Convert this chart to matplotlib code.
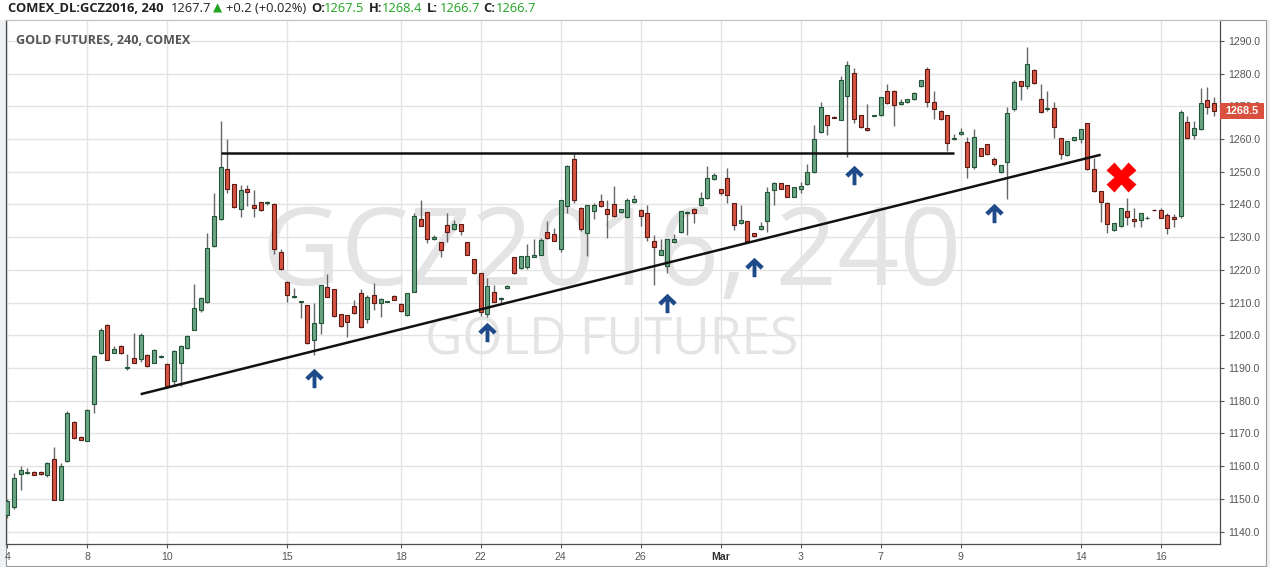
import numpy as np
import matplotlib
matplotlib.use("Agg")
import matplotlib.pyplot as plt
from matplotlib.path import Path
from matplotlib.patches import Rectangle
import matplotlib.transforms as mtransforms

W, H = 1270, 567

# 240-min bars (bar index = position on the time scale)
opens = [1145.1, 1147.4, 1157.7, 1158.0, 1158.3, 1158.3, 1157.3, 1162.2, 1149.7, 1161.6,
         1173.6, 1169.0, 1167.8, 1179.1, 1194.7, 1203.3, 1194.7, 1196.8, 1190.0, 1193.2,
         1192.9, 1194.1, 1191.6, 1193.5, 1191.3, 1186.1, 1191.6, 1196.0, 1201.7, 1207.6,
         1210.3, 1227.3, 1235.5, 1250.8, 1246.2, 1238.5, 1244.6, 1239.8, 1240.7, 1240.3,
         1240.1, 1225.5, 1216.4, 1211.6, 1210.2, 1209.2, 1198.5, 1203.7, 1214.7, 1214.1,
         1206.4, 1206.1, 1209.0, 1212.8, 1205.1, 1212.2, 1209.8, 1210.3, 1212.0, 1209.6,
         1206.1, 1213.3, 1235.6, 1237.6, 1229.4, 1228.4, 1233.6, 1232.4, 1233.9, 1228.4,
         1223.2, 1218.9, 1206.4, 1213.1, 1211.2, 1214.4, 1223.8, 1220.5, 1220.8, 1224.0,
         1224.7, 1231.5, 1230.9, 1226.3, 1239.6, 1253.8, 1239.0, 1231.2, 1237.9, 1241.2,
         1238.5, 1240.0, 1237.7, 1236.2, 1240.7, 1238.4, 1237.3, 1228.7, 1224.7, 1221.1,
         1228.4, 1231.5, 1237.3, 1238.5, 1239.7, 1241.9, 1247.7, 1244.6, 1248.0, 1240.4,
         1234.2, 1234.8, 1231.2, 1232.4, 1234.8, 1244.3, 1246.5, 1245.9, 1242.4, 1244.6,
         1246.2, 1249.8, 1262.1, 1267.3, 1266.7, 1265.9, 1273.1, 1280.1, 1267.3, 1263.3,
         1267.2, 1267.3, 1274.6, 1274.6, 1270.6, 1271.3, 1272.1, 1276.1, 1281.3, 1271.3,
         1268.6, 1267.3, 1260.0, 1261.4, 1259.0, 1251.6, 1257.2, 1258.4, 1253.9, 1249.8,
         1252.9, 1269.2, 1277.7, 1276.1, 1281.0, 1272.2, 1269.2, 1269.4, 1260.2, 1255.0,
         1259.8, 1260.1, 1264.8, 1250.9, 1244.0, 1240.4, 1232.1, 1233.4, 1238.0, 1235.5,
         1235.2, 1235.8, 1238.4, 1238.3, 1236.9, 1236.2, 1236.5, 1265.1, 1261.2, 1263.0,
         1271.9, 1271.0]
highs = [1150.0, 1158.0, 1159.9, 1159.5, 1158.6, 1158.5, 1161.2, 1165.8, 1160.9, 1177.0,
         1173.8, 1169.2, 1177.5, 1194.0, 1202.2, 1203.5, 1196.6, 1197.0, 1194.4, 1200.6,
         1200.7, 1194.4, 1195.8, 1194.0, 1191.5, 1195.6, 1197.0, 1200.2, 1215.6, 1211.8,
         1231.2, 1243.4, 1265.5, 1260.0, 1246.4, 1246.0, 1246.0, 1244.4, 1240.9, 1241.2,
         1240.3, 1226.3, 1216.6, 1214.5, 1210.6, 1209.4, 1209.8, 1215.5, 1218.6, 1214.3,
         1206.6, 1206.3, 1210.8, 1214.1, 1212.3, 1215.9, 1211.4, 1210.6, 1212.2, 1209.8,
         1213.0, 1237.3, 1241.4, 1237.8, 1230.7, 1228.6, 1237.3, 1235.3, 1234.1, 1228.6,
         1223.4, 1219.1, 1217.4, 1215.4, 1211.8, 1215.3, 1224.0, 1224.3, 1227.9, 1229.3,
         1229.9, 1234.9, 1232.7, 1241.5, 1252.1, 1255.8, 1239.2, 1239.9, 1240.6, 1243.2,
         1241.4, 1245.6, 1238.7, 1241.9, 1242.9, 1238.6, 1239.7, 1230.8, 1229.3, 1229.5,
         1231.0, 1238.1, 1237.9, 1239.0, 1243.7, 1251.8, 1249.5, 1244.8, 1251.1, 1240.6,
         1239.7, 1235.0, 1231.4, 1234.5, 1245.2, 1246.9, 1246.7, 1246.1, 1245.4, 1247.0,
         1252.4, 1264.3, 1271.3, 1267.5, 1266.9, 1279.3, 1283.8, 1281.7, 1267.5, 1270.7,
         1267.5, 1273.0, 1276.9, 1275.0, 1272.2, 1272.4, 1274.5, 1278.2, 1281.9, 1274.8,
         1268.8, 1267.5, 1261.6, 1263.3, 1260.7, 1263.0, 1257.4, 1258.6, 1254.6, 1252.2,
         1269.7, 1278.1, 1277.9, 1288.1, 1281.5, 1276.8, 1274.8, 1271.2, 1260.4, 1259.5,
         1260.7, 1263.2, 1265.0, 1254.1, 1244.2, 1240.9, 1234.4, 1239.0, 1242.0, 1239.0,
         1237.5, 1236.6, 1238.6, 1238.8, 1237.4, 1237.0, 1269.0, 1266.9, 1265.4, 1275.6,
         1276.0, 1272.8]
lows = [1144.0, 1146.8, 1152.6, 1157.6, 1157.2, 1157.4, 1156.6, 1149.6, 1149.5, 1161.4,
        1168.3, 1167.9, 1167.6, 1176.2, 1194.2, 1192.4, 1194.5, 1194.4, 1189.3, 1191.4,
        1191.8, 1190.4, 1191.4, 1193.0, 1184.0, 1184.5, 1184.6, 1195.8, 1201.5, 1207.0,
        1209.8, 1227.0, 1235.3, 1243.6, 1239.0, 1236.1, 1239.5, 1236.1, 1238.0, 1239.9,
        1225.0, 1220.0, 1210.1, 1211.4, 1205.2, 1197.4, 1194.0, 1200.3, 1211.6, 1205.7,
        1202.6, 1199.6, 1206.5, 1202.2, 1203.7, 1207.7, 1205.7, 1210.2, 1210.7, 1207.1,
        1205.9, 1213.1, 1233.3, 1228.3, 1229.2, 1224.0, 1228.6, 1232.2, 1230.6, 1224.5,
        1218.7, 1206.0, 1205.7, 1210.1, 1209.8, 1214.2, 1218.8, 1220.3, 1220.2, 1223.8,
        1224.5, 1229.4, 1228.7, 1225.6, 1237.3, 1240.6, 1232.0, 1224.3, 1235.7, 1239.2,
        1229.6, 1236.3, 1237.5, 1236.0, 1240.5, 1233.5, 1228.9, 1215.3, 1224.5, 1219.2,
        1228.2, 1231.3, 1230.6, 1234.2, 1239.5, 1241.7, 1247.5, 1242.9, 1240.4, 1232.2,
        1234.0, 1228.6, 1230.2, 1232.2, 1231.7, 1239.7, 1244.6, 1242.2, 1242.2, 1243.6,
        1246.0, 1249.6, 1261.9, 1261.3, 1266.3, 1265.7, 1254.6, 1265.0, 1263.4, 1262.5,
        1267.1, 1267.1, 1270.7, 1264.1, 1270.4, 1271.1, 1271.9, 1275.9, 1269.9, 1266.2,
        1265.8, 1256.5, 1259.8, 1261.2, 1248.0, 1250.8, 1254.7, 1255.1, 1251.9, 1249.5,
        1241.6, 1268.7, 1272.0, 1275.2, 1276.9, 1268.0, 1268.7, 1260.4, 1253.8, 1254.8,
        1259.3, 1258.9, 1250.5, 1243.8, 1234.6, 1231.2, 1232.0, 1233.1, 1233.6, 1233.2,
        1233.2, 1235.6, 1238.0, 1235.8, 1231.0, 1233.2, 1236.0, 1260.0, 1259.9, 1262.8,
        1267.6, 1266.9]
closes = [1149.2, 1156.4, 1158.9, 1158.2, 1157.4, 1157.6, 1161.0, 1149.7, 1159.9, 1176.3,
          1168.6, 1168.1, 1177.2, 1193.8, 1201.7, 1192.6, 1195.9, 1194.7, 1190.2, 1191.6,
          1200.0, 1190.6, 1195.6, 1193.7, 1184.5, 1195.3, 1196.6, 1199.9, 1208.5, 1211.5,
          1226.6, 1236.4, 1251.4, 1244.6, 1239.1, 1244.3, 1243.7, 1239.0, 1238.2, 1240.7,
          1226.3, 1220.2, 1212.2, 1212.0, 1210.4, 1197.6, 1203.7, 1215.3, 1211.8, 1205.9,
          1202.8, 1204.0, 1206.7, 1202.4, 1211.6, 1209.8, 1211.2, 1210.4, 1210.9, 1207.3,
          1212.8, 1236.4, 1233.5, 1229.4, 1230.1, 1226.0, 1231.5, 1234.0, 1231.8, 1224.7,
          1218.9, 1207.2, 1215.1, 1210.3, 1211.4, 1215.1, 1219.0, 1224.1, 1224.2, 1224.6,
          1229.1, 1229.6, 1228.9, 1241.3, 1251.7, 1241.4, 1232.6, 1239.7, 1239.7, 1239.4,
          1237.1, 1236.5, 1238.5, 1241.3, 1241.8, 1236.4, 1230.1, 1226.9, 1226.1, 1229.3,
          1229.4, 1237.9, 1237.7, 1237.3, 1241.9, 1248.0, 1248.9, 1243.4, 1242.8, 1233.6,
          1235.2, 1228.8, 1230.4, 1233.5, 1243.9, 1246.7, 1244.8, 1242.4, 1245.2, 1245.7,
          1249.8, 1259.9, 1269.7, 1264.4, 1266.5, 1278.0, 1282.6, 1266.0, 1263.6, 1262.7,
          1267.3, 1272.8, 1270.9, 1270.3, 1271.3, 1272.2, 1274.0, 1278.0, 1271.3, 1269.1,
          1266.0, 1258.9, 1260.2, 1262.1, 1251.6, 1260.5, 1254.9, 1255.3, 1252.3, 1252.0,
          1267.9, 1277.4, 1276.1, 1283.0, 1277.1, 1268.2, 1269.5, 1263.8, 1255.3, 1259.3,
          1260.5, 1263.0, 1250.9, 1244.0, 1240.7, 1233.9, 1234.2, 1238.8, 1236.3, 1234.9,
          1237.3, 1235.9, 1238.2, 1236.0, 1232.7, 1235.5, 1268.4, 1260.2, 1263.5, 1270.9,
          1269.7, 1268.5]

day_bars = [0, 12, 24, 42, 59, 71, 83, 95, 107, 119, 131, 143, 161, 173]
day_labels = ["4", "8", "10", "15", "18", "22", "24", "26", "Mar", "3", "7", "9", "14", "16"]

# drawings on the chart
resist_bars, resist_prices = [32, 142], [1255.8, 1255.8]
trend_bars, trend_prices = [20, 164], [1182.0, 1255.2]
arrow_bars = [46, 72, 99, 112, 127, 148]
arrow_prices = [1186.8, 1201.1, 1209.8, 1221.0, 1249.0, 1237.5]
fail_bar, fail_price = 167, 1248.3

UP_FILL, UP_EDGE = "#6ba583", "#225437"
DN_FILL, DN_EDGE = "#d75442", "#5b1a13"


def ftxt(fig, x, y, s, **kw):
    # place text by pixel position in the 1270x567 picture
    fig.text(x / W, 1 - y / H, s, va="center", **kw)


def main():
    fig = plt.figure(figsize=(W / 100, H / 100), dpi=100, facecolor="#eef2f5")
    fig.patches.append(Rectangle((0, 1 - 20 / H), 1, 20 / H, transform=fig.transFigure,
                                 fc="white", ec="none", zorder=-10))
    fig.patches.append(Rectangle((6 / W, 1 / H), 1260 / W, 546 / H, transform=fig.transFigure,
                                 fc="white", ec="#9a9a9a", lw=0.8, zorder=-10))

    ax = fig.add_axes([6 / W, 23 / H, 1214 / W, 524 / H])
    ax.set_facecolor("white")
    ax.set_xlim(-0.2, 181.9)
    ax.set_ylim(1136.2, 1296.4)

    o, h, l, c = map(np.array, (opens, highs, lows, closes))
    x = np.arange(len(o))
    up = c >= o
    ax.vlines(x, l, h, color="#666666", lw=1.0, zorder=3)
    ax.bar(x[up], c[up] - o[up], bottom=o[up], width=0.62, color=UP_FILL,
           edgecolor=UP_EDGE, lw=0.8, zorder=4)
    ax.bar(x[~up], o[~up] - c[~up], bottom=c[~up], width=0.62, color=DN_FILL,
           edgecolor=DN_EDGE, lw=0.8, zorder=4)

    # drawings
    ax.plot(resist_bars, resist_prices, color="#111111", lw=1.8, zorder=5,
            solid_capstyle="butt")
    ax.plot(trend_bars, trend_prices, color="#111111", lw=1.8, zorder=5,
            solid_capstyle="butt")
    arrow = Path([(0, 1.0), (0.95, 0.1), (0.62, -0.22), (0.2, 0.22), (0.2, -1.0),
                  (-0.2, -1.0), (-0.2, 0.22), (-0.62, -0.22), (-0.95, 0.1), (0, 1.0)],
                 closed=True)
    ax.plot(arrow_bars, arrow_prices, ls="none", marker=arrow, ms=14,
            color="#1f4a8a", mec="none", zorder=6)
    ax.plot([fail_bar], [fail_price], ls="none", marker="X", ms=21,
            color="#ff0000", mec="none", zorder=6)

    # watermark
    ax.text(0.499, 0.494, "GCZ2016, 240", transform=ax.transAxes, ha="center",
            va="baseline", fontsize=78, family="Open Sans", color="#e4e4e4", zorder=1)
    ax.text(0.499, 0.361, "GOLD FUTURES", transform=ax.transAxes, ha="center",
            va="baseline", fontsize=37, family="Open Sans", color="#e4e4e4", zorder=1)

    # axes, grid, ticks
    ax.set_yticks(np.arange(1140, 1291, 10))
    ax.yaxis.set_major_formatter(matplotlib.ticker.FormatStrFormatter("%.1f"))
    ax.set_xticks(day_bars)
    ax.set_xticklabels(day_labels)
    ax.grid(True, color="#e3e3e3", lw=1.0, zorder=0)
    ax.set_axisbelow(True)
    ax.yaxis.tick_right()
    ax.tick_params(axis="y", which="both", direction="out", length=3, width=0.8,
                   color="#555555", labelcolor="#555555", labelsize=7.6, pad=3)
    ax.tick_params(axis="x", direction="out", length=3, width=0.8, color="#555555",
                   labelcolor="#555555", labelsize=7.6, pad=3)
    for lab in ax.get_xticklabels() + ax.get_yticklabels():
        lab.set_family("Liberation Sans")
    ax.get_xticklabels()[day_labels.index("Mar")].set_fontweight("bold")
    ax.get_xticklabels()[day_labels.index("Mar")].set_color("#333333")
    for side in ("left", "bottom", "right"):
        ax.spines[side].set_color("#4d4d4d")
        ax.spines[side].set_linewidth(0.9)
    ax.spines["top"].set_color("#c4c4c4")
    ax.spines["top"].set_linewidth(0.8)

    # last price tag on the scale (covers the 1270.0 label, as on the original)
    tr = mtransforms.blended_transform_factory(ax.transAxes, ax.transData)
    last = closes[-1]
    ax.add_patch(Rectangle((1.0, last - 2.5), 44 / 1214, 5.0, transform=tr,
                           fc="#d9503f", ec="none", clip_on=False, zorder=7))
    ax.text(1.0 + 22 / 1214, last, f"{last:.1f}", transform=tr, ha="center",
            va="center", color="white", fontsize=7.8, fontweight="bold",
            family="Liberation Sans", clip_on=False, zorder=8)

    # header line
    hf = ["Open Sans", "DejaVu Sans"]
    green = "#1fa51f"
    fs = 9.3
    ftxt(fig, 8, 8, "COMEX_DL:GCZ2016, 240", family=hf, fontsize=fs,
         fontweight="bold", color="#222222")
    ftxt(fig, 171, 8, "1267.7", family=hf, fontsize=fs, color="#222222")
    ftxt(fig, 213, 8, "▲", family="DejaVu Sans", fontsize=8.6, color=green)
    ftxt(fig, 226, 8, "+0.2 (+0.02%)", family=hf, fontsize=fs, color="#222222")
    for px, key, val in [(311, "O:", "1267.5"), (369, "H:", "1268.4"),
                         (427, "L:", "1266.7"), (483, "C:", "1266.7")]:
        ftxt(fig, px, 8, key, family=hf, fontsize=fs, fontweight="bold", color="#222222")
        ftxt(fig, px + 13, 8, val, family=hf, fontsize=fs, color=green)
    ftxt(fig, 16, 40, "GOLD FUTURES, 240, COMEX", family=hf, fontsize=9.0,
         fontweight="bold", color="#555555")

    fig.savefig("out.png", dpi=100, facecolor=fig.get_facecolor())


if __name__ == "__main__":
    main()
